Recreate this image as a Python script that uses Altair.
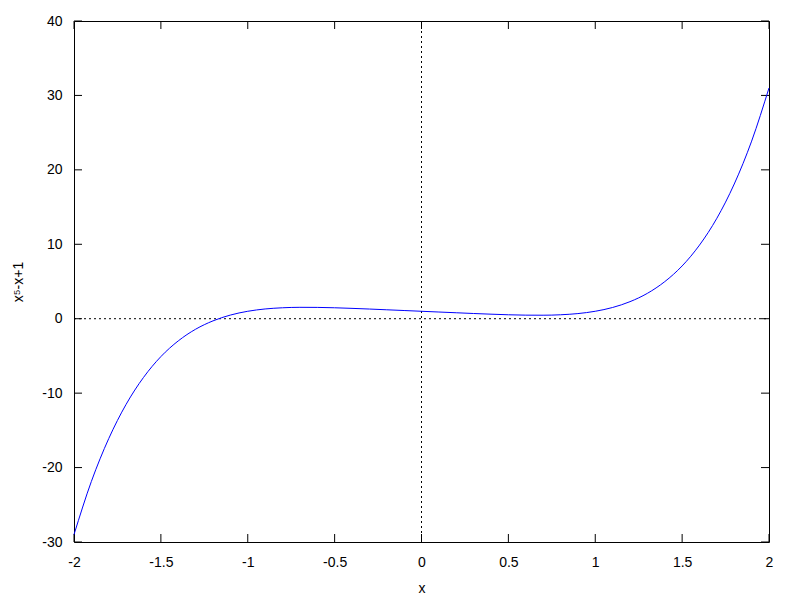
import altair as alt
import pandas as pd

# Values (x, y)
xs = [-2.0, -1.9, -1.8, -1.7, -1.6, -1.5, -1.4, -1.3, -1.2, -1.1, -1.0,
      -0.9, -0.8, -0.7, -0.6, -0.5, -0.4, -0.3, -0.2, -0.1, 0.0,
      0.1, 0.2, 0.3, 0.4, 0.5, 0.6, 0.7, 0.8, 0.9, 1.0,
      1.1, 1.2, 1.3, 1.4, 1.5, 1.6, 1.7, 1.8, 1.9, 2.0]
ys = [-29.0, -21.86, -16.10, -11.50, -7.89, -5.09, -2.98, -1.41, -0.29, 0.49, 1.0,
      1.31, 1.47, 1.53, 1.52, 1.47, 1.39, 1.30, 1.20, 1.10, 1.0,
      0.90, 0.80, 0.70, 0.61, 0.53, 0.48, 0.47, 0.53, 0.69, 1.0,
      1.51, 2.29, 3.41, 4.98, 7.09, 9.89, 13.50, 18.10, 23.86, 31.0]

x_ticks = [-2, -1.5, -1, -0.5, 0, 0.5, 1, 1.5, 2]
y_ticks = [-30, -20, -10, 0, 10, 20, 30, 40]

W, H = 695, 521
FONT = "Liberation Sans"
FS = 14
TL = 8

df = pd.DataFrame({"x": xs, "y": ys})
xt = pd.DataFrame({"v": x_ticks})
yt = pd.DataFrame({"v": y_ticks})
zero = pd.DataFrame({"v": [0]})

xscale = alt.Scale(domain=[-2, 2], nice=False, zero=False)
yscale = alt.Scale(domain=[-30, 40], nice=False, zero=False)

line = alt.Chart(df).mark_line(color="#0000ff", strokeWidth=1, interpolate="monotone").encode(
    x=alt.X("x:Q", scale=xscale,
            axis=alt.Axis(values=x_ticks, title="x", ticks=False, domain=False, grid=False,
                          labelExpr="'' + datum.value", labelPadding=13, titlePadding=12,
                          labelFlush=False, labelOverlap=False,
                          labelFont=FONT, labelFontSize=FS, titleFont=FONT, titleFontSize=FS,
                          titleFontWeight="normal", labelColor="black", titleColor="black")),
    y=alt.Y("y:Q", scale=yscale,
            axis=alt.Axis(values=y_ticks, title="x⁵-x+1", ticks=False, domain=False, grid=False,
                          labelExpr="'' + datum.value", labelPadding=12, titlePadding=16,
                          labelFlush=False, labelOverlap=False,
                          labelFont=FONT, labelFontSize=FS, titleFont=FONT, titleFontSize=FS,
                          titleFontWeight="normal", labelColor="black", titleColor="black")),
)

dash = [2, 3]
zx = alt.Chart(zero).mark_rule(color="black", strokeWidth=1, strokeDash=dash).encode(
    x=alt.X("v:Q", scale=xscale), y=alt.value(0), y2=alt.value(H))
zy = alt.Chart(zero).mark_rule(color="black", strokeWidth=1, strokeDash=dash).encode(
    y=alt.Y("v:Q", scale=yscale), x=alt.value(0), x2=alt.value(W))

tb = alt.Chart(xt).mark_rule(color="black", strokeWidth=1).encode(
    x=alt.X("v:Q", scale=xscale), y=alt.value(H), y2=alt.value(H - TL))
tt = alt.Chart(xt).mark_rule(color="black", strokeWidth=1).encode(
    x=alt.X("v:Q", scale=xscale), y=alt.value(0), y2=alt.value(TL))
tl = alt.Chart(yt).mark_rule(color="black", strokeWidth=1).encode(
    y=alt.Y("v:Q", scale=yscale), x=alt.value(0), x2=alt.value(TL))
tr = alt.Chart(yt).mark_rule(color="black", strokeWidth=1).encode(
    y=alt.Y("v:Q", scale=yscale), x=alt.value(W - TL), x2=alt.value(W))

chart = alt.layer(zx, zy, tb, tt, tl, tr, line).properties(
    width=W, height=H,
    autosize=alt.AutoSizeParams(type="none"),
    padding={"left": 66, "top": 13, "right": 20, "bottom": 60},
    background="white",
).configure_view(stroke="black", strokeWidth=1)

chart.save("out.html", embed_options={"renderer": "svg", "actions": False})
